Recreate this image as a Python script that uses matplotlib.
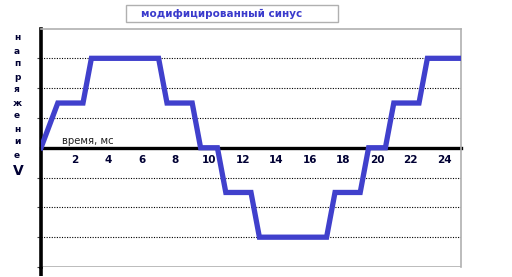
# modified sine wave chart
import numpy as np
import matplotlib.pyplot as plt
from matplotlib.patches import Rectangle

# data
t_ms = [0, 1, 2.5, 3, 7, 7.5, 9, 9.5, 10.5, 11, 12.5, 13, 17, 17.5, 19, 19.5, 20.5, 21, 22.5, 23, 25]
volts = [0, 1.5, 1.5, 3, 3, 1.5, 1.5, 0, 0, -1.5, -1.5, -3, -3, -1.5, -1.5, 0, 0, 1.5, 1.5, 3, 3]
x_ticks = [2, 4, 6, 8, 10, 12, 14, 16, 18, 20, 22, 24]
grid_levels = [-3, -2, -1, 1, 2, 3]
ylabel_letters = list('напряжение')

W, H = 512, 277
fig = plt.figure(figsize=(W / 100, H / 100), dpi=100)
ax = fig.add_axes([41 / W, 1 - 267 / H, 420 / W, 238.5 / H])

ax.set_xlim(0, 25)
ax.set_ylim(-4, 4)

# dotted grid + gray bottom line
for lv in grid_levels:
    ax.axhline(lv, color='black', lw=0.8, ls=(0, (1, 1.3)), zorder=1)
ax.axhline(-4, color='#b0b0b0', lw=1.2, zorder=1)

ax.plot(t_ms, volts, color='#4040cc', lw=3.8, solid_joinstyle='miter', zorder=3)

# spines
for side in ['top', 'right']:
    ax.spines[side].set_color('#b0b0b0')
    ax.spines[side].set_linewidth(1.2)
ax.spines['left'].set_color('black')
ax.spines['left'].set_linewidth(2.6)
ax.spines['bottom'].set_position(('data', 0))
ax.spines['bottom'].set_color('black')
ax.spines['bottom'].set_linewidth(2.4)
ax.spines['bottom'].set_zorder(2)
# left axis runs a bit below the plot area
ax.plot([0, 0], [-4, -4.3], color='black', lw=2.6, clip_on=False, solid_capstyle='butt')

ax.set_xticks(x_ticks)
ax.set_xticklabels([str(v) for v in x_ticks], fontsize=7.5, fontweight='bold', color='#000033')
ax.tick_params(axis='x', length=0, pad=5)
ax.set_yticks([-4, -3, -2, -1, 1, 2, 3])
ax.set_yticklabels([])
ax.tick_params(axis='y', length=3, width=0.8, color='#444444', direction='out')

ax.text(1.25, 0.23, 'время, мс', fontsize=7.3, color='#222222', va='center', ha='left')

# title box
fig.patches.append(Rectangle((126 / W, 1 - 22 / H), 212 / W, 17 / H, transform=fig.transFigure,
                             fill=False, edgecolor='#b0b0b0', lw=1))
fig.text(221.5 / W, 1 - 13.5 / H, 'модифицированный синус', fontsize=7.5, fontweight='bold',
         color='#3a3acc', ha='center', va='center')

# stacked vertical label
for i, ch in enumerate(ylabel_letters):
    fig.text(17 / W, 1 - (38 + 13 * i) / H, ch, fontsize=6.5, fontweight='bold',
             color='#000033', ha='center', va='center')
fig.text(18 / W, 1 - 171 / H, 'V', fontsize=10, fontweight='bold', color='#000033',
         ha='center', va='center')

fig.savefig('out.png', dpi=100)
